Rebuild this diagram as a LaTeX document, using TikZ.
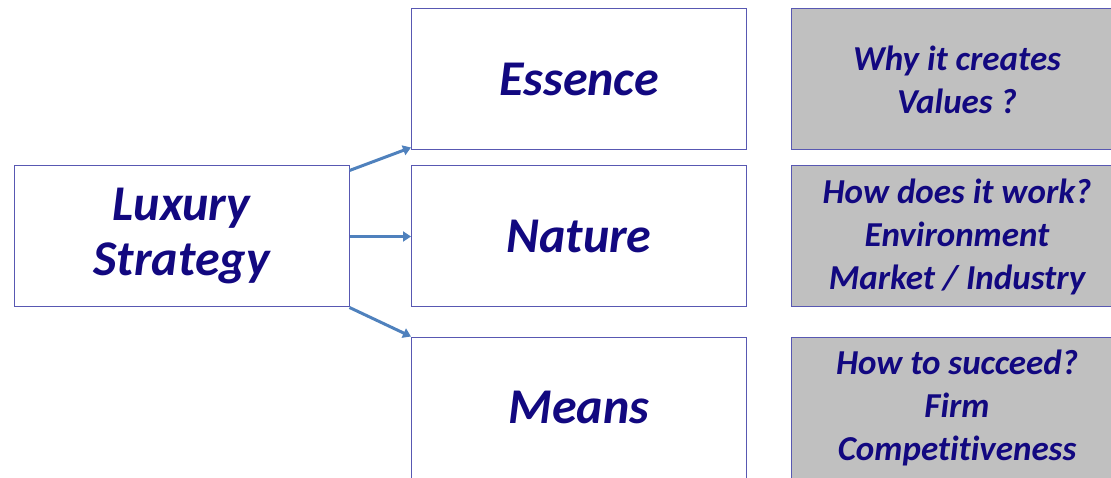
\documentclass[tikz,border=0pt]{standalone}
\usepackage{fontspec}
\setmainfont{Carlito}[Ligatures=NoCommon]
\usetikzlibrary{arrows.meta,calc}
\definecolor{txtblue}{RGB}{18,8,128}
\definecolor{edgeblue}{RGB}{88,88,178}
\definecolor{boxgray}{RGB}{192,192,192}
\definecolor{arrowblue}{RGB}{79,129,189}
\tikzset{
  mainbox/.style={draw=edgeblue, line width=1pt, fill=white, minimum width=335pt, minimum height=141pt, inner sep=0pt, align=center, text=txtblue, font=\fontsize{50}{55}\selectfont\bfseries\itshape},
  infobox/.style={draw=edgeblue, line width=1pt, fill=boxgray, minimum width=332pt, minimum height=141pt, inner sep=0pt, align=center, text=txtblue, font=\fontsize{35}{43}\selectfont\bfseries\itshape},
  linkarrow/.style={draw=arrowblue, line width=3pt, -{Triangle[length=8pt,width=10pt]}}
}
\begin{document}
\begin{tikzpicture}[x=1pt,y=-1pt]
\useasboundingbox (0,0) rectangle (1111,478);
\node[mainbox] (lux) at (181.5,236.5) {Luxury\\Strategy};
\node[mainbox] (ess) at (579,79.5) {Essence};
\node[mainbox] (nat) at (579,236.5) {Nature};
\node[mainbox] (mea) at (579,407.5) {Means};
\node[infobox] (why) at (957,79.5) {Why it creates\\Values ?};
\node[infobox] (how) at (957,236.5) {How does it work?\\Environment\\Market / Industry};
\node[infobox] (suc) at (957,407.5) {How to succeed?\\Firm\\Competitiveness};
\draw[linkarrow] ($(lux.north east)+(0,5)$) -- ($(ess.south west)+(0,-3)$);
\draw[linkarrow] (lux.east) -- (nat.west);
\draw[linkarrow] (lux.south east) -- (mea.north west);
\end{tikzpicture}
\end{document}
